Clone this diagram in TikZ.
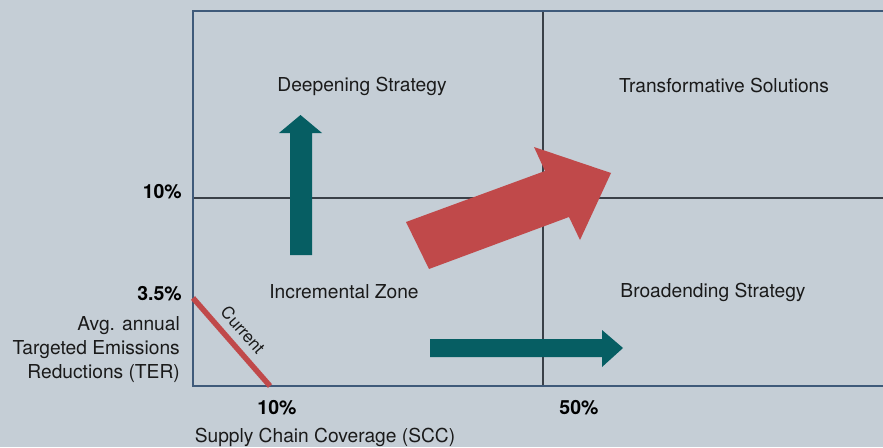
\documentclass[tikz,border=0pt]{standalone}
\usepackage{fontspec}
\setmainfont{TeX Gyre Heros}
\definecolor{bg}{HTML}{C5CED6}
\definecolor{boxc}{HTML}{3F5A7A}
\definecolor{gridc}{HTML}{3A4048}
\definecolor{teal}{HTML}{065E63}
\definecolor{redc}{HTML}{C0494A}
\definecolor{txt}{HTML}{1A1A1A}
\tikzset{
  lbl/.style={font=\fontsize{19.2}{22}\selectfont, text=txt, inner sep=0pt},
  pct/.style={font=\fontsize{19.5}{22}\selectfont\bfseries, text=black, inner sep=0pt},
}
\begin{document}
\begin{tikzpicture}[x=1pt,y=-1pt]
\fill[bg] (0,0) rectangle (883,447);
\useasboundingbox (0,0) rectangle (883,447);
% grid
\draw[gridc, line width=1.2pt] (543,11) -- (543,386);
\draw[gridc, line width=1.2pt] (193,198) -- (883,198);
\draw[boxc, line width=1.3pt] (885,11) -- (193,11) -- (193,386) -- (885,386);
% current line
\coordinate (c1) at (193,298);
\coordinate (c2) at (270,386);
\draw[redc, line width=5.5pt] (c1) -- (c2);
\node[lbl, rotate=-48.8, font=\fontsize{17}{20}\selectfont] (cur) at (243,330) {Current};
% arrows
\fill[teal] (290,255) -- (290,133) -- (279,133) -- (300.5,115) -- (322,133) -- (312,133) -- (312,255) -- cycle;
\fill[teal] (430,339) -- (602,339) -- (602,330) -- (623,348) -- (602,367) -- (602,357) -- (430,357) -- cycle;
\fill[redc] (406,222) -- (545,171) -- (534,147) -- (611,173) -- (580,240) -- (569,217) -- (429,269) -- cycle;
% labels
\node[lbl] (deep) at (362,86) {Deepening Strategy};
\node[lbl] (trans) at (724,86) {Transformative Solutions};
\node[lbl] (inc) at (344,292) {Incremental Zone};
\node[lbl] (broad) at (713,292) {Broadending Strategy};
\node[pct, anchor=east] (y10) at (182,192) {10\%};
\node[pct, anchor=east] (y35) at (182,294) {3.5\%};
\node[lbl, anchor=east, align=right, font=\fontsize{19.2}{24}\selectfont] (ter) at (180,350) {Avg. annual\\Targeted Emissions\\Reductions (TER)};
\node[pct] (x10) at (277,408) {10\%};
\node[pct] (x50) at (579,408) {50\%};
\node[lbl] (scc) at (325,437) {Supply Chain Coverage (SCC)};
\end{tikzpicture}
\end{document}
